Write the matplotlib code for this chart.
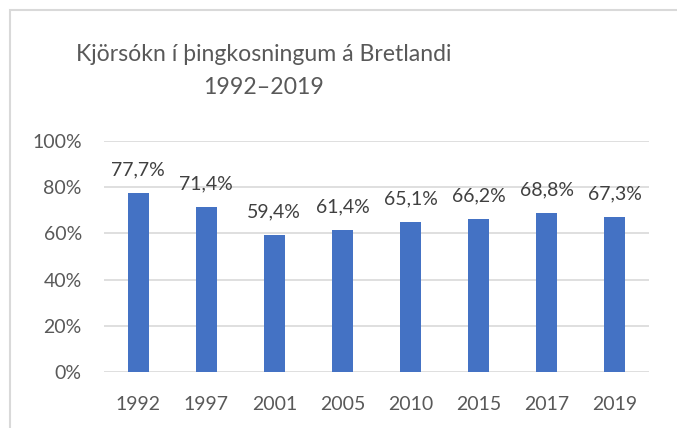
import matplotlib
matplotlib.use("Agg")
import matplotlib.pyplot as plt
from matplotlib.patches import Rectangle

years = ["1992", "1997", "2001", "2005", "2010", "2015", "2017", "2019"]
turnout = [77.7, 71.4, 59.4, 61.4, 65.1, 66.2, 68.8, 67.3]
yticks = [0, 20, 40, 60, 80, 100]
title = "Kjörsókn í þingkosningum á Bretlandi\n1992–2019"

W, H = 677, 428
plt.rcParams['font.family'] = ['Lato', 'DejaVu Sans']
fig = plt.figure(figsize=(W / 100, H / 100), dpi=100)
fig.patch.set_facecolor("white")

# chart border (cropped on right/bottom)
fig.patches.append(Rectangle((10 / W, -0.1), 1.2, (H - 10) / H + 0.1,
                             transform=fig.transFigure, fill=False,
                             edgecolor="#d9d9d9", linewidth=1.5))

left, right = 104 / W, 649 / W
bottom, top = 1 - 372 / H, 1 - 141 / H
ax = fig.add_axes([left, bottom, right - left, top - bottom])

x = range(len(years))
ax.bar(x, turnout, width=0.31, color="#4472c4", zorder=3)
for i, v in zip(x, turnout):
    ax.text(i, v + 10, f"{v:.1f}%".replace(".", ","), ha="center", va="center",
            fontsize=14, color="#404040")

ax.set_xlim(-0.5, len(years) - 0.5)
ax.set_ylim(0, 100)
ax.set_yticks(yticks)
ax.set_yticklabels([f"{t}%" for t in yticks])
ax.set_xticks(list(x))
ax.set_xticklabels(years)
ax.tick_params(axis="both", length=0, labelsize=14, labelcolor="#595959")
ax.tick_params(axis="x", pad=17)
ax.tick_params(axis="y", pad=16)
ax.grid(axis="y", color="#d9d9d9", linewidth=1.2, zorder=0)
for s in ax.spines.values():
    s.set_visible(False)

fig.text(264 / W, 1 - 71 / H, title, ha="center", va="center",
         fontsize=16.6, color="#595959", linespacing=1.75)

fig.savefig("out.png", dpi=100, facecolor="white")
